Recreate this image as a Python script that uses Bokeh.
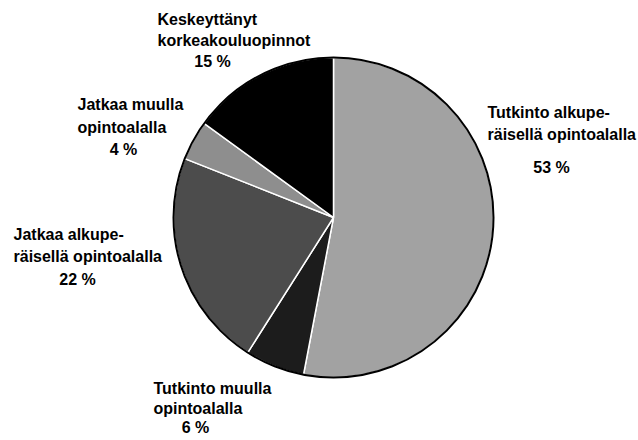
import math
from bokeh.plotting import figure
from bokeh.models import ColumnDataSource
from bokeh.core.properties import value
from bokeh.embed import file_html
from bokeh.resources import INLINE

# ---- data ----
categories = [
    "Tutkinto alkuperäisellä opintoalalla",
    "Tutkinto muulla opintoalalla",
    "Jatkaa alkuperäisellä opintoalalla",
    "Jatkaa muulla opintoalalla",
    "Keskeyttänyt korkeakouluopinnot",
]
shares = [53, 6, 22, 4, 15]
label_line1 = ["Tutkinto alkupe-", "Tutkinto muulla", "Jatkaa alkupe-", "Jatkaa muulla", "Keskeyttänyt"]
label_line2 = ["räisellä opintoalalla", "opintoalalla", "räisellä opintoalalla", "opintoalalla", "korkeakouluopinnot"]
colors = ["#a2a2a2", "#1c1c1c", "#4c4c4c", "#8e8e8e", "#000000"]

# ---- layout (page pixels -> data) ----
W, H = 638, 440
def px(x): return x
def py(y): return H - y

CX, CY, R = px(333), py(217), 160

# label layout: left x of text lines, centre x of percentage, baselines
SHIFT = 6
lab_left = [487, 153, 13, 77, 157]
lab_pct_cx = [551, 195, 77, 123, 212]
lab_base = [(118, 140, 173), (394, 414, 433), (240, 262, 285), (110, 133, 155), (25, 46, 67)]

total = float(sum(shares))
starts, ends = [], []
acc = 0.0
for v in shares:
    starts.append(math.pi / 2 - 2 * math.pi * acc / total)
    acc += v
    ends.append(math.pi / 2 - 2 * math.pi * acc / total)

p = figure(width=W, height=H, x_range=(0, W), y_range=(0, H),
           x_axis_type=None, y_axis_type=None, toolbar_location=None,
           output_backend="svg", min_border=0)
p.grid.visible = False
p.outline_line_color = None
p.background_fill_color = "white"
p.border_fill_color = "white"

src = ColumnDataSource(dict(start=starts, end=ends, color=colors, cat=categories))
p.wedge(x=CX, y=CY, radius=R, start_angle="start", end_angle="end",
        direction="clock", fill_color="color", line_color="white",
        line_width=1.5, source=src)
p.circle(x=[CX], y=[CY], radius=R, fill_color=None, line_color="black", line_width=2)

tx, ty, tt, ta = [], [], [], []
for i in range(len(categories)):
    b1, b2, b3 = lab_base[i]
    tx += [px(lab_left[i]), px(lab_left[i]), px(lab_pct_cx[i])]
    ty += [py(b1 - SHIFT), py(b2 - SHIFT), py(b3 - SHIFT)]
    tt += [label_line1[i], label_line2[i], f"{shares[i]} %"]
    ta += ["left", "left", "center"]

tsrc = ColumnDataSource(dict(x=tx, y=ty, text=tt, align=ta))
p.text(x="x", y="y", text="text", text_align="align", text_baseline="alphabetic",
       text_font=value("Liberation Sans"), text_font_style="bold",
       text_font_size="16px", text_color="black", source=tsrc)

open("out.html", "w").write(file_html(p, INLINE))
